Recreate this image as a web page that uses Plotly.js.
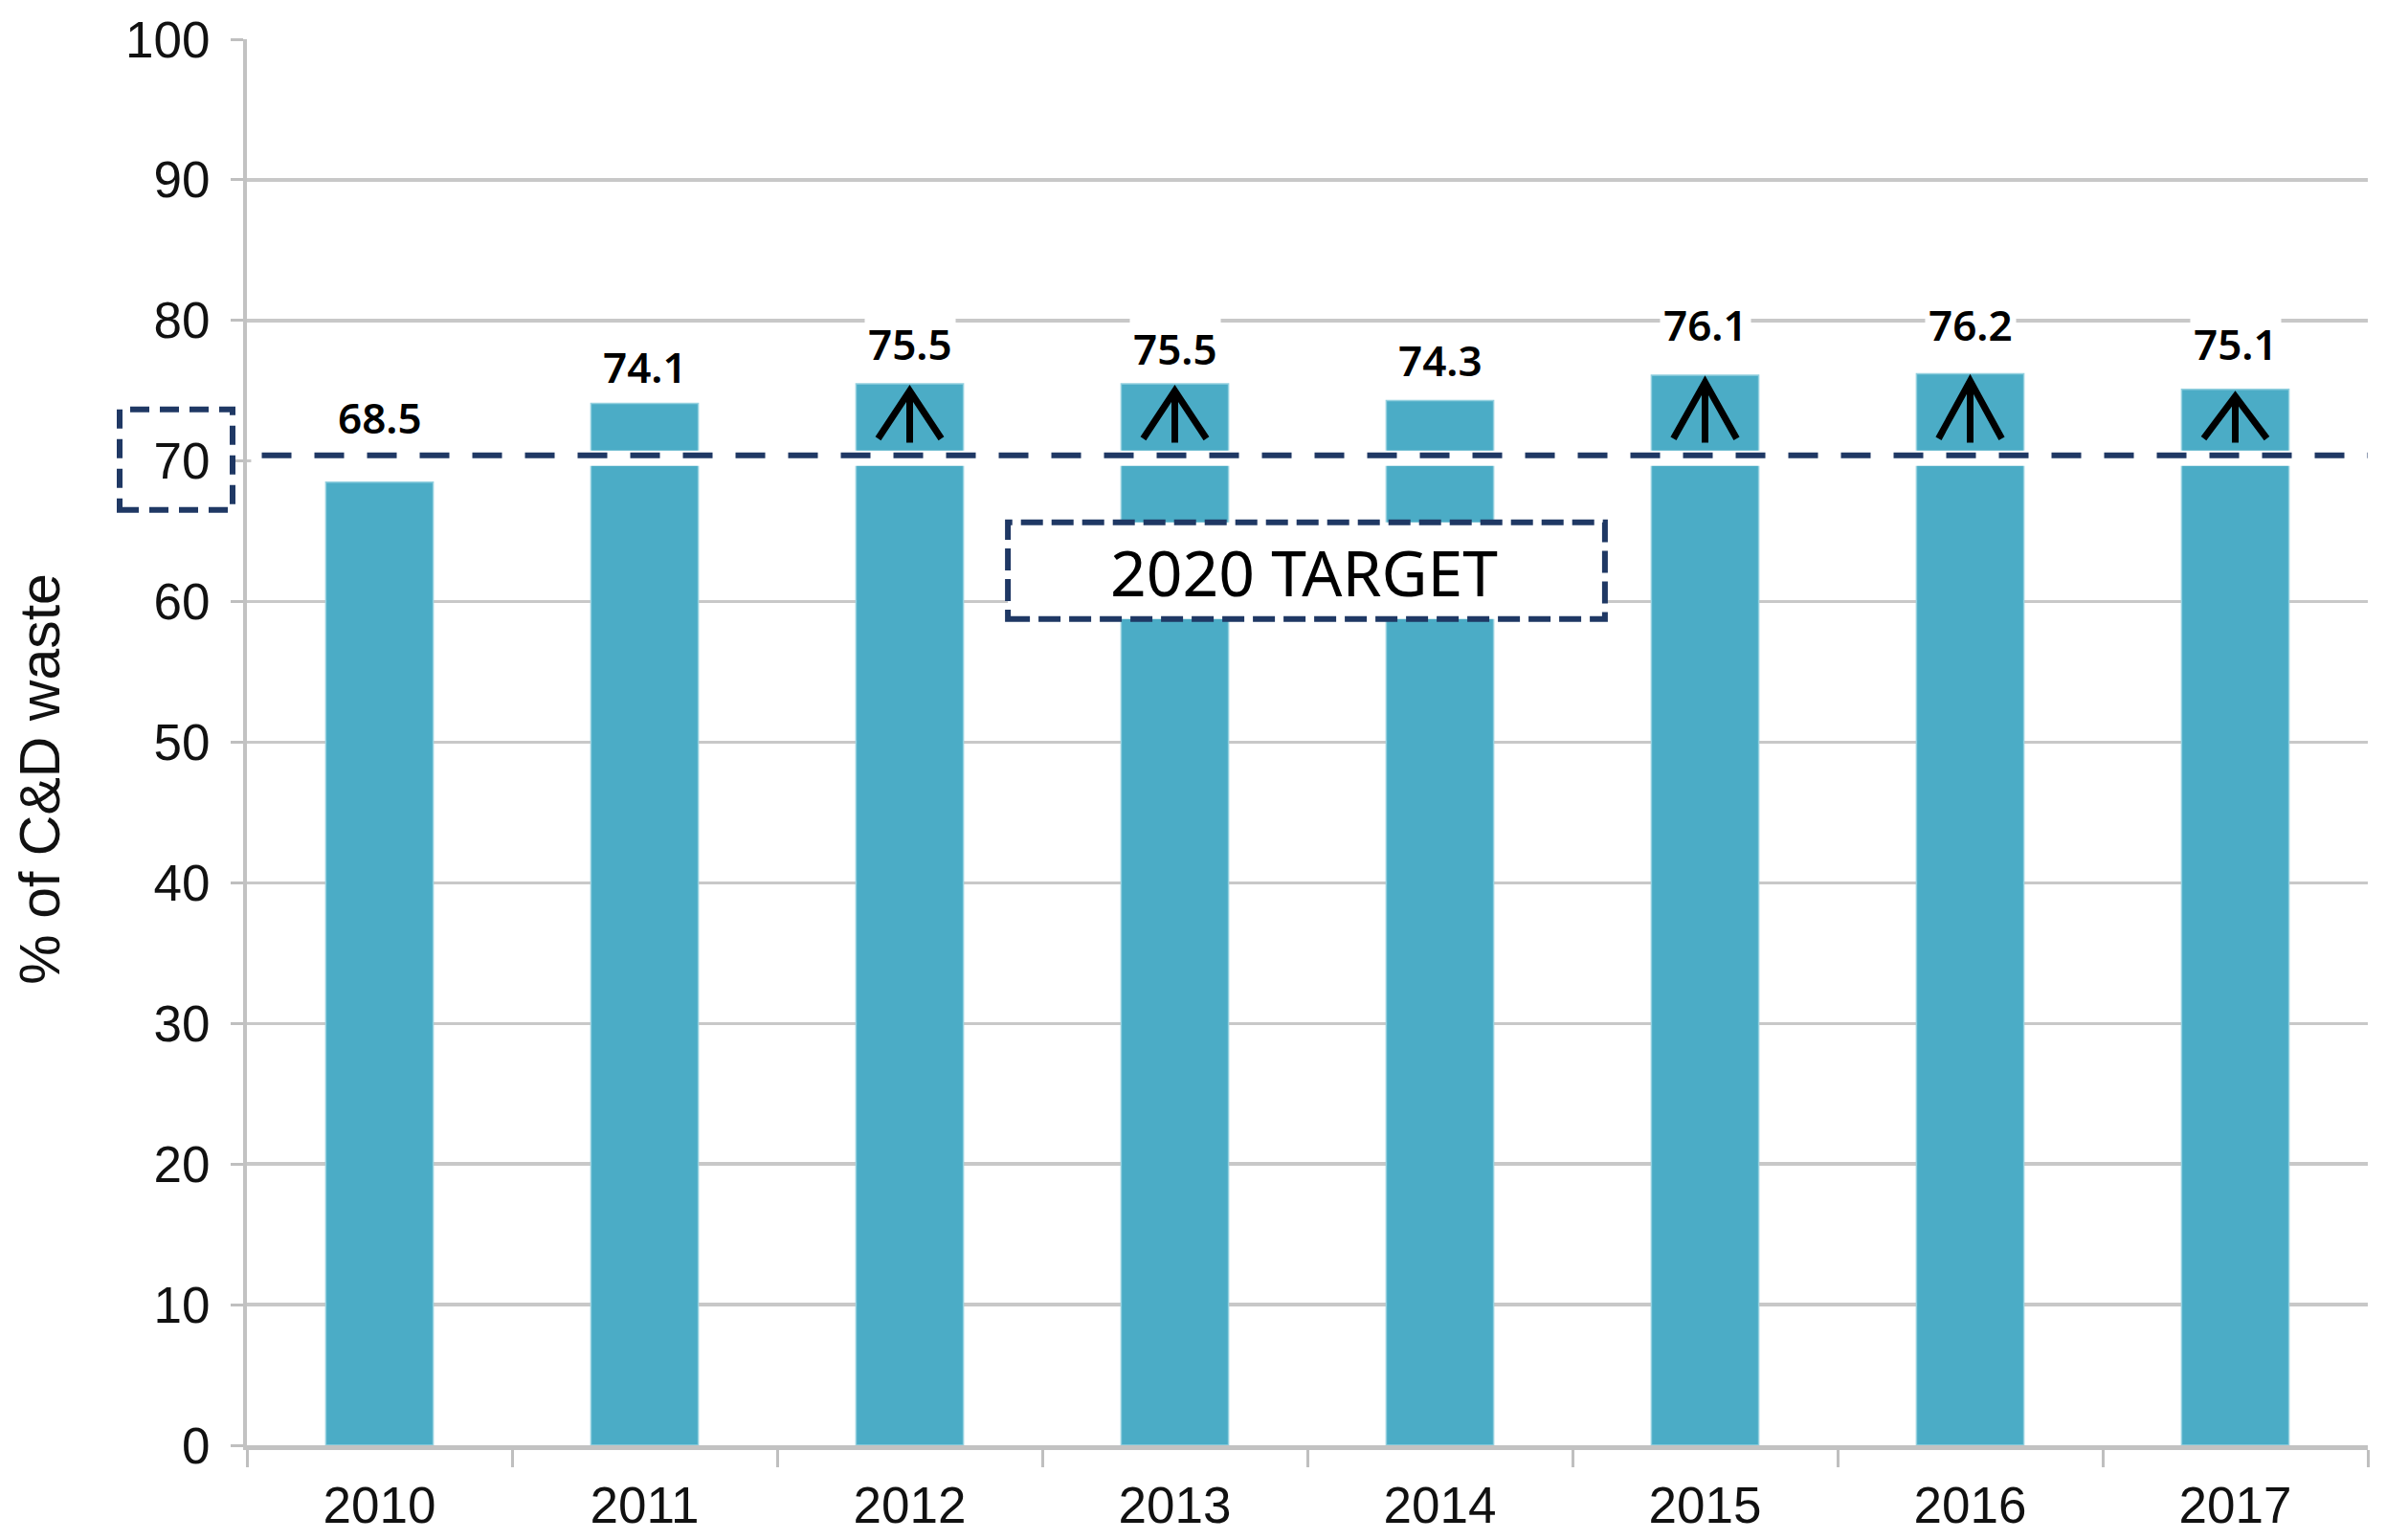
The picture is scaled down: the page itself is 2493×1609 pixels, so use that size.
<!DOCTYPE html>
<html>
<head>
<meta charset="utf-8">
<script src="https://cdn.plot.ly/plotly-3.0.1.min.js"></script>
<style>
html,body{margin:0;padding:0;background:#ffffff;}
#chart{width:2493px;height:1609px;}
</style>
</head>
<body>
<div id="chart"></div>
<script>
// ---- data ----
const years = ['2010', '2011', '2012', '2013', '2014', '2015', '2016', '2017'];
const recoveryRate = [68.5, 74.1, 75.5, 75.5, 74.3, 76.1, 76.2, 75.1];
const arrowYears = ['2012', '2013', '2015', '2016', '2017'];
const targetValue = 70;
const targetLabel = '2020 TARGET';
const yTickVals = [0, 10, 20, 30, 40, 50, 60, 70, 80, 90, 100];
const yTitle = '% of C&D waste';

// ---- styling (label lift above each bar, in pixels) ----
const labelShift = [34, 4, 8, 3, 9, 19, 18, 14];

const NAVY = '#1F3864';
const GRID = '#c8c8c8';
const AXIS = '#c2c2c2';
const BAR = '#4BACC6';
const tickFont = {family: 'Liberation Sans, Arial, sans-serif', size: 53, color: '#111111'};
const labelFont = {family: 'Noto Sans, DejaVu Sans, sans-serif', size: 44, color: '#000000', weight: 600};

const barTrace = {
  type: 'bar',
  x: years,
  y: recoveryRate,
  marker: {color: BAR, line: {color: '#93d0df', width: 1.5}},
  hoverinfo: 'x+y',
  showlegend: false
};

const shapes = [];
// white band behind the target line
shapes.push({
  type: 'rect', layer: 'above',
  xref: 'paper', x0: 0.002, x1: 1,
  yref: 'y', ysizemode: 'pixel', yanchor: targetValue, y0: -5, y1: 11,
  fillcolor: '#ffffff', line: {width: 0}
});
// dashed target line
shapes.push({
  type: 'line', layer: 'above',
  xref: 'paper', x0: 0.007, x1: 1,
  yref: 'y', ysizemode: 'pixel', yanchor: targetValue, y0: 6, y1: 6,
  line: {color: NAVY, width: 6, dash: '31px,24px'}
});
// arrows inside bars above target
arrowYears.forEach(function (yr) {
  const idx = years.indexOf(yr);
  const v = recoveryRate[idx];
  const top = v - 0.5;
  const stemBottom = targetValue + 1.3;
  const wingBottom = targetValue + 1.6;
  shapes.push({
    type: 'path', layer: 'above',
    xref: 'x', xsizemode: 'pixel', xanchor: idx,
    yref: 'y',
    path: 'M0,' + stemBottom + ' L0,' + top + ' M-33,' + wingBottom + ' L0,' + top + ' L33,' + wingBottom,
    line: {color: '#000000', width: 7}
  });
});
// dashed box around the 70 tick label
shapes.push({
  type: 'rect', layer: 'above',
  xref: 'paper', xsizemode: 'pixel', xanchor: 0, x0: -133, x1: -15,
  yref: 'y', ysizemode: 'pixel', yanchor: targetValue, y0: -51, y1: 54,
  fillcolor: 'rgba(0,0,0,0)',
  line: {color: NAVY, width: 6, dash: '20px,11px'}
});
// "2020 TARGET" dashed box
shapes.push({
  type: 'rect', layer: 'above',
  xref: 'paper', x0: 0.3588, x1: 0.6403,
  yref: 'y', ysizemode: 'pixel', yanchor: targetValue, y0: -165, y1: -64,
  fillcolor: '#ffffff',
  line: {color: NAVY, width: 6, dash: '23px,9px'}
});

const annotations = years.map(function (yr, i) {
  return {
    x: i, y: recoveryRate[i], xref: 'x', yref: 'y',
    text: recoveryRate[i].toFixed(1),
    showarrow: false, yanchor: 'bottom', xanchor: 'center',
    yshift: labelShift[i],
    bgcolor: '#ffffff', borderpad: 3,
    font: labelFont
  };
});
annotations.push({
  xref: 'paper', x: 0.4985, yref: 'y', y: targetValue, yshift: -115,
  text: targetLabel, showarrow: false, xanchor: 'center', yanchor: 'middle',
  font: {family: 'Noto Sans, DejaVu Sans, sans-serif', size: 66, color: '#000000'}
});
annotations.push({
  xref: 'paper', x: -0.0975, yref: 'paper', y: 0.474,
  text: yTitle, textangle: -90, showarrow: false,
  xanchor: 'center', yanchor: 'middle',
  font: {family: 'Liberation Sans, Arial, sans-serif', size: 59, color: '#111111'}
});

const layout = {
  width: 2493, height: 1609, autosize: false,
  margin: {l: 258, r: 19, t: 41, b: 99, pad: 0},
  paper_bgcolor: '#ffffff', plot_bgcolor: '#ffffff',
  bargap: 0.595,
  showlegend: false,
  xaxis: {
    type: 'category',
    categoryorder: 'array', categoryarray: years,
    range: [-0.5, years.length - 0.5], autorange: false,
    tickson: 'boundaries',
    ticks: 'outside', ticklen: 18, tickwidth: 3, tickcolor: '#bfbfbf',
    showline: true, linecolor: AXIS, linewidth: 5,
    showgrid: false, zeroline: false,
    tickangle: 0,
    ticklabelstandoff: 12,
    tickfont: tickFont,
    fixedrange: true
  },
  yaxis: {
    range: [0, 100], autorange: false,
    tickmode: 'array', tickvals: yTickVals,
    ticks: 'outside', ticklen: 13, tickwidth: 3, tickcolor: '#bfbfbf',
    showline: true, linecolor: AXIS, linewidth: 4,
    showgrid: true, gridcolor: GRID, gridwidth: 3.5,
    zeroline: false,
    ticklabelstandoff: 11,
    tickfont: tickFont,
    fixedrange: true
  },
  shapes: shapes,
  annotations: annotations
};

Plotly.newPlot('chart', [barTrace], layout, {displayModeBar: false, staticPlot: true});
</script>
</body>
</html>
